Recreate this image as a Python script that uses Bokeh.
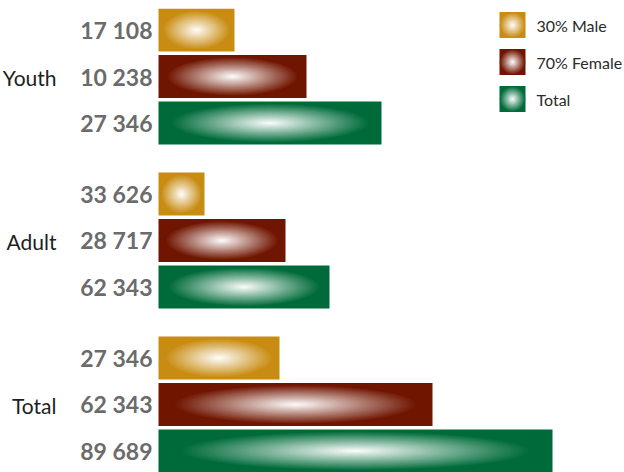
from bokeh.plotting import figure
from bokeh.models import FactorRange, Range1d, ColumnDataSource
from bokeh.embed import file_html
from bokeh.resources import INLINE
from bokeh.core.properties import value

# ---------------- data ----------------
groups = ["Youth", "Adult", "Total"]
series_keys = ["Male", "Female", "Total"]
legend_labels = ["30% Male", "70% Female", "Total"]
series_colors = ["#C88C12", "#701500", "#006B3A"]

# bar lengths as drawn (estimated, chart units)
youth_len = [76, 148, 223]
adult_len = [46, 127, 171]
total_len = [121, 274, 394]

# printed labels beside each bar
youth_labels = ["17 108", "10 238", "27 346"]
adult_labels = ["33 626", "28 717", "62 343"]
total_labels = ["27 346", "62 343", "89 689"]

lengths = [youth_len, adult_len, total_len]
labels = [youth_labels, adult_labels, total_labels]

# ---------------- helpers ----------------
def mix_white(hexc, w):
    r, g, b = int(hexc[1:3], 16), int(hexc[3:5], 16), int(hexc[5:7], 16)
    return "#%02x%02x%02x" % (round(r + (255 - r) * w), round(g + (255 - g) * w), round(b + (255 - b) * w))

factors = [(g, s) for g in groups for s in series_keys]
bar_y, bar_len, bar_col, bar_lab = [], [], [], []
for gi, g in enumerate(groups):
    for si, s in enumerate(series_keys):
        bar_y.append((g, s))
        bar_len.append(lengths[gi][si])
        bar_col.append(series_colors[si])
        bar_lab.append(labels[gi][si])

BAR_H = 0.925
N = 40
W, H = 624, 472
TOP = 8
GP = 0.53     # group padding
RP = -0.035   # range padding

# gradient layers (largest first)
gx, gy, gw, gh, gc = [], [], [], [], []
for k in range(N):
    t = 1 - k / N
    for y, L, c in zip(bar_y, bar_len, bar_col):
        gx.append(L / 2)
        gy.append(y)
        gw.append(L * 0.9 * t)
        gh.append(BAR_H * 0.92 * t)
        gc.append(mix_white(c, 1 - t))

# ---------------- figure ----------------
y_range = FactorRange(*reversed(factors), factor_padding=0.0, group_padding=GP,
                      range_padding=RP, range_padding_units="absolute")
p = figure(width=W, height=H, x_range=Range1d(-158, 466), y_range=y_range,
           x_axis_location=None, y_axis_location=None, toolbar_location=None,
           output_backend="svg", min_border=0, min_border_top=TOP, outline_line_color=None,
           background_fill_color="white", border_fill_color="white")
p.grid.visible = False

bars = ColumnDataSource(dict(y=bar_y, right=bar_len, color=bar_col, label=bar_lab))
p.hbar(y="y", left=0, right="right", height=BAR_H, fill_color="color", line_color=None, source=bars)

grad = ColumnDataSource(dict(x=gx, y=gy, w=gw, h=gh, c=gc))
p.ellipse(x="x", y="y", width="w", height="h", fill_color="c", line_color=None, source=grad)

# value labels
p.text(x=-6, y="y", text="label", source=bars, text_align="right", text_baseline="middle",
       text_font=value("Lato"), text_font_style="bold", text_font_size="23px", text_color="#6B6B6B")

# group labels
p.text(x=-102, y=groups, text=groups, text_align="right", text_baseline="middle", y_offset=1,
       text_font=value("Lato"), text_font_size="21px", text_color="#1E1E1E")

# ---------------- legend (synthetic coordinates on the categorical axis) ----------------
y_start = -RP
y_end = len(factors) + GP * (len(groups) - 1) + RP
unit_per_px = (y_end - y_start) / (H - TOP)
def px_y(py):
    return y_end - (py - TOP) * unit_per_px

SQ = 26
lx, ly, lc = [], [], []
for i, c in enumerate(series_colors):
    lx.append(354)
    ly.append(px_y(24.5 + i * 37))
    lc.append(c)
p.rect(x=lx, y=ly, width=SQ, height=SQ * unit_per_px, fill_color=lc, line_color=None)
ex, ey, ew, eh, ec = [], [], [], [], []
for k in range(N):
    t = 1 - k / N
    for x, y, c in zip(lx, ly, lc):
        ex.append(x); ey.append(y)
        ew.append(SQ * 0.98 * t); eh.append(SQ * 0.98 * t * unit_per_px)
        ec.append(mix_white(c, 1 - t))
p.ellipse(x=ex, y=ey, width=ew, height=eh, fill_color=ec, line_color=None)
p.text(x=[378] * 3, y=ly, text=legend_labels, text_align="left", text_baseline="middle",
       text_font=value("Lato"), text_font_size="16px", text_color="#2A2A2A")

open("out.html", "w").write(file_html(p, INLINE))
